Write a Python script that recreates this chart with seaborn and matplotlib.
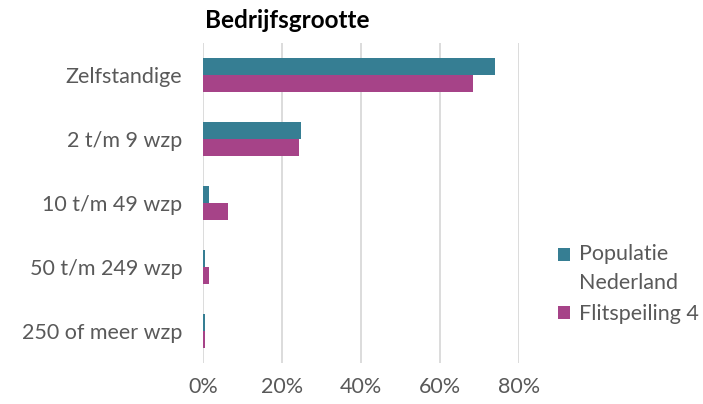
import matplotlib
matplotlib.use("Agg")
import matplotlib.pyplot as plt
import seaborn as sns
import pandas as pd
from matplotlib.ticker import PercentFormatter, FixedLocator

categories = ["Zelfstandige", "2 t/m 9 wzp", "10 t/m 49 wzp", "50 t/m 249 wzp", "250 of meer wzp"]
series_names = ["Populatie\nNederland", "Flitspeiling 4"]
populatie = [0.740, 0.249, 0.014, 0.006, 0.005]
flitspeiling = [0.684, 0.244, 0.062, 0.014, 0.006]
x_ticks = [0.0, 0.2, 0.4, 0.6, 0.8]
colors = ["#367E93", "#A64388"]

df = pd.DataFrame({
    "categorie": categories * 2,
    "reeks": [series_names[0]] * len(categories) + [series_names[1]] * len(categories),
    "waarde": populatie + flitspeiling,
})

sns.set_theme(style="white")
plt.rcParams["font.family"] = ["Lato", "DejaVu Sans"]

fig = plt.figure(figsize=(7.03, 4.04), dpi=100)
ax = fig.add_axes([0.2888, 0.1015, 0.4495, 0.792])

sns.barplot(data=df, x="waarde", y="categorie", hue="reeks", order=categories,
            hue_order=series_names, palette=colors, width=0.54, orient="h",
            edgecolor="none", linewidth=0, ax=ax, saturation=1)

ax.set_xlim(0, 0.8)
ax.set_ylim(4.5, -0.5)
ax.xaxis.set_major_locator(FixedLocator(x_ticks))
ax.xaxis.set_major_formatter(PercentFormatter(1.0, decimals=0))
ax.grid(axis="x", color="#D9D9D9", linewidth=1.3)
ax.set_axisbelow(True)
for s in ax.spines.values():
    s.set_visible(False)
ax.set_xlabel("")
ax.set_ylabel("")
ax.tick_params(axis="x", length=0, pad=10, labelsize=15.5, labelcolor="#595959")
ax.tick_params(axis="y", length=0, pad=15, labelsize=15.5, labelcolor="#595959")

leg = ax.legend(loc="upper left", bbox_to_anchor=(1.096, 0.398), frameon=False,
                fontsize=15.5, handlelength=0.55, handleheight=0.55, handletextpad=0.42,
                labelspacing=0.5, borderaxespad=0, borderpad=0.4)
for t in leg.get_texts():
    t.set_color("#595959")
    t.set_linespacing(1.57)
# align first square with the first line of its two-line label
h0 = leg.legend_handles[0]
h0.set_y(h0.get_y() + 10.5)

fig.text(0.2916, 0.95, "Bedrijfsgrootte", fontsize=17.5, fontweight="bold",
         color="#000000", ha="left", va="center")

fig.savefig("out.png", dpi=100)
